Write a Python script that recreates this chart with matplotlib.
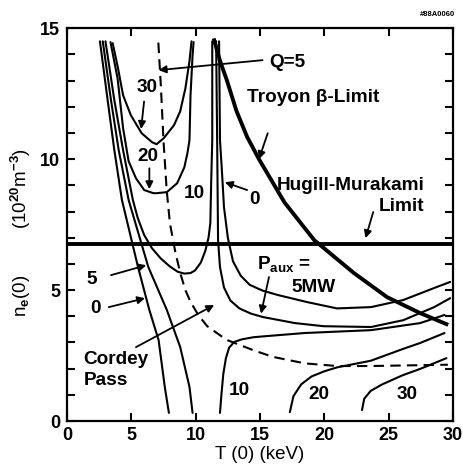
import numpy as np
import matplotlib.pyplot as plt

plt.rcParams['font.family'] = ['Liberation Sans', 'DejaVu Sans']
plt.rcParams['font.weight'] = 'bold'
plt.rcParams['mathtext.fontset'] = 'custom'
plt.rcParams['mathtext.rm'] = 'Liberation Sans:bold'
plt.rcParams['mathtext.it'] = 'Liberation Sans:bold'
plt.rcParams['mathtext.bf'] = 'Liberation Sans:bold'
plt.rcParams['mathtext.default'] = 'rm'

# Paux contours coming down on the left (labelled 0 and 5)
T_left0 = [2.56, 3.16, 3.68, 4.27, 5.52, 6.4, 7.12, 7.6, 7.92]
n_left0 = [14.5, 12.25, 10.34, 8.44, 5.88, 4.24, 3.09, 1.3, 0.31]
T_left5 = [2.78, 3.42, 4.02, 4.79, 6.32, 7.76, 8.8, 9.52, 9.76]
n_left5 = [14.5, 12.25, 10.34, 8.44, 5.88, 4.24, 2.82, 1.3, 0.31]

# U shaped contours (10, 20, 30)
T_u10 = [2.99, 3.68, 4.36, 5.12, 5.5, 6.0, 6.6, 7.3, 8.0, 8.6, 9.12, 9.6, 9.95, 10.4, 10.75,
         11.0, 11.14, 11.21, 11.29, 11.29]
n_u10 = [14.5, 12.25, 10.34, 8.44, 7.75, 7.1, 6.6, 6.2, 5.9, 5.7, 5.63, 5.65, 5.75, 6.05, 6.5,
         7.0, 7.56, 9.2, 10.73, 14.5]
T_u20 = [3.38, 3.93, 4.36, 4.79, 5.36, 6.0, 6.72, 6.96, 7.76, 8.56, 9.12, 9.36, 9.52, 9.6, 9.76, 9.84]
n_u20 = [14.47, 13.09, 11.18, 9.92, 9.27, 8.82, 8.7, 8.7, 8.74, 9.08, 9.69, 10.23, 10.73, 12.44, 13.97, 14.47]
T_u30 = [3.55, 3.95, 4.36, 4.96, 5.8, 6.6, 6.96, 7.52, 8.32, 8.8, 9.2, 9.52, 9.68]
n_u30 = [14.43, 13.51, 12.44, 11.68, 10.99, 10.65, 10.57, 10.8, 11.3, 11.83, 12.7, 13.74, 14.5]

# right hand contours (0 and Paux = 5 MW)
T_r0 = [11.82, 11.89, 12.05, 12.2, 12.5, 12.9, 13.5, 14.2, 15.2, 16.4, 18.68, 20.98, 23.63,
        26.13, 28.54, 29.78]
n_r0 = [14.5, 10.73, 9.47, 8.17, 7.0, 6.1, 5.55, 5.2, 4.98, 4.81, 4.54, 4.3, 4.35,
        4.62, 5.08, 5.31]
T_r5 = [11.59, 11.67, 11.74, 11.89, 12.2, 12.7, 13.4, 14.3, 15.23, 17.71, 19.96, 23.63, 26.13,
        28.54, 29.78]
n_r5 = [14.5, 10.73, 6.91, 5.88, 5.1, 4.6, 4.3, 4.1, 3.97, 3.74, 3.62, 3.59, 3.85,
        4.35, 4.69]

# lower right contours (10, 20, 30)
T_lo10 = [11.89, 12.0, 12.15, 12.35, 12.6, 13.0, 13.6, 14.5, 15.45, 18.46, 23.63, 27.45, 29.34]
n_lo10 = [0.31, 1.0, 1.8, 2.4, 2.8, 3.02, 3.12, 3.2, 3.24, 3.36, 3.47, 3.74, 4.05]
T_lo20 = [17.32, 17.6, 18.2, 19.0, 20.0, 21.0, 23.6, 26.1, 27.45, 29.34]
n_lo20 = [0.34, 0.95, 1.4, 1.7, 1.9, 2.05, 2.3, 2.75, 2.98, 3.36]
T_lo30 = [22.93, 23.1, 23.6, 24.5, 26.1, 27.5, 29.49]
n_lo30 = [0.42, 0.85, 1.15, 1.4, 1.75, 2.0, 2.4]

# Q = 5 (dashed)
T_q5 = [7.1, 7.3, 7.5, 7.75, 8.0, 8.4, 8.8, 9.2, 9.6, 10.2, 10.9, 12.4, 14.5, 16.0, 18.5, 21.0,
        23.6, 29.6]
n_q5 = [14.45, 12.75, 10.7, 8.8, 7.55, 6.5, 5.65, 5.0, 4.55, 4.05, 3.62, 3.1, 2.7, 2.45, 2.2,
        2.1, 2.1, 2.15]

# Troyon beta limit
T_troyon = [11.44, 11.9, 12.42, 13.18, 14.0, 14.92, 16.9, 19.21, 22.3, 24.88, 27.45, 29.49]
n_troyon = [14.54, 13.74, 13.02, 11.83, 10.85, 10.0, 8.35, 6.91, 5.65, 4.73, 4.12, 3.7]

# Hugill-Murakami limit
n_hugill = 6.75

fig = plt.figure(figsize=(4.63, 4.68), dpi=100)
ax = fig.add_axes([0.1447, 0.1004, 0.8337, 0.8393])

lw = 1.5
for T, n in [(T_left0, n_left0), (T_left5, n_left5), (T_u10, n_u10), (T_u20, n_u20),
             (T_u30, n_u30), (T_r0, n_r0), (T_r5, n_r5), (T_lo10, n_lo10),
             (T_lo20, n_lo20), (T_lo30, n_lo30)]:
    ax.plot(T, n, color='k', lw=lw, solid_capstyle='round', solid_joinstyle='round')
ax.plot(T_q5, n_q5, color='k', lw=lw, linestyle=(0, (5, 3)))
ax.plot(T_troyon, n_troyon, color='k', lw=2.8, solid_joinstyle='round')
ax.axhline(n_hugill, color='k', lw=2.8)

ax.set_xlim(0, 30)
ax.set_ylim(0, 15)
ax.set_xticks(range(0, 31, 5))
ax.set_yticks([0, 5, 10, 15])
ax.set_yticks(range(16), minor=True)
ax.tick_params(which='both', direction='in', top=True, right=True, length=6, width=1.5,
               labelsize=13)
ax.tick_params(axis='x', pad=4)
ax.tick_params(axis='y', pad=5)
for s in ax.spines.values():
    s.set_linewidth(1.6)

ax.set_xlabel('T (0) (keV)', fontsize=13.5, labelpad=2)
ax.set_ylabel(r'n$_{e}$(0)' + ' ' * 9 + r'(10$^{20}$m$^{-3}$)', fontsize=13.5)
ax.yaxis.set_label_coords(-0.088, 0.48)

fs = 13.7
arrow = dict(arrowstyle='-|>', color='k', lw=1.3, mutation_scale=11, shrinkA=0, shrinkB=0)

def note(tip, tail):
    ax.annotate('', xy=tip, xytext=tail, arrowprops=arrow)

ax.text(6.2, 12.75, '30', fontsize=fs, ha='center', va='center')
note((5.76, 11.15), (5.99, 12.2))
ax.text(6.3, 10.1, '20', fontsize=fs, ha='center', va='center')
note((6.4, 8.85), (6.4, 9.65))
ax.text(9.9, 8.7, '10', fontsize=fs, ha='center', va='center')
ax.text(14.6, 8.45, '0', fontsize=fs, ha='center', va='center')
note((12.27, 9.12), (14.0, 8.82))
ax.text(15.7, 13.7, 'Q=5', fontsize=fs, ha='left', va='center')
note((7.12, 13.4), (15.2, 13.78))
ax.text(14.0, 12.37, 'Troyon β-Limit', fontsize=fs, ha='left', va='center')
note((14.92, 10.0), (15.6, 10.99))
ax.text(27.8, 9.0, 'Hugill-Murakami', fontsize=fs, ha='right', va='center')
ax.text(27.8, 8.2, 'Limit', fontsize=fs, ha='right', va='center')
note((23.2, 6.98), (23.8, 7.98))
ax.text(14.8, 6.0, r'P$_{aux}$ =', fontsize=fs, ha='left', va='center')
ax.text(19.2, 5.1, '5MW', fontsize=fs, ha='center', va='center')
note((15.08, 4.1), (15.7, 5.5))
ax.text(1.9, 5.4, '5', fontsize=fs, ha='center', va='center')
note((6.16, 5.95), (3.42, 5.57))
ax.text(2.2, 4.3, '0', fontsize=fs, ha='center', va='center')
note((6.07, 4.69), (3.25, 4.35))
ax.text(1.28, 2.33, 'Cordey', fontsize=fs, ha='left', va='center')
ax.text(1.28, 1.56, 'Pass', fontsize=fs, ha='left', va='center')
note((11.44, 4.43), (5.36, 2.82))
ax.text(13.4, 1.18, '10', fontsize=fs, ha='center', va='center')
ax.text(19.6, 1.0, '20', fontsize=fs, ha='center', va='center')
ax.text(26.4, 1.0, '30', fontsize=fs, ha='center', va='center')

fig.text(0.983, 0.968, '#88A0060', fontsize=5.5, ha='right', va='center')

fig.savefig('out.png', dpi=100)
